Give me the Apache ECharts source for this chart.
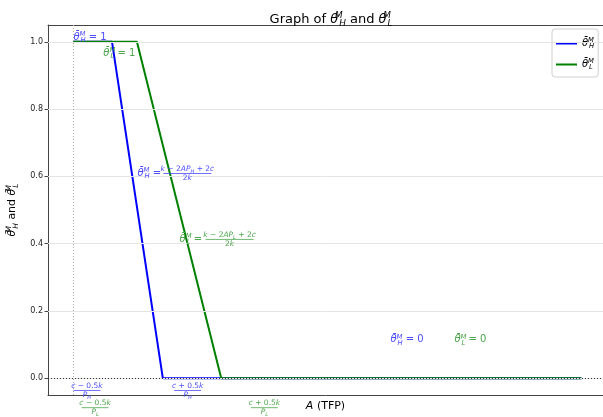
<!DOCTYPE html>
<html>
<head>
<meta charset="utf-8">
<script src="https://cdn.jsdelivr.net/npm/echarts@6/dist/echarts.min.js"></script>
<style>
    html, body { margin: 0; padding: 0; background: #fff; }
    #main { width: 603px; height: 417px; }
</style>
</head>
<body>
<div id="main"></div>
<script>
// data (A in arbitrary units, start of the curves = 0)
var aH = [0, 0.76, 1.76, 10];
var thetaH = [1, 1, 0, 0];
var aL = [0, 1.25, 2.91, 10];
var thetaL = [1, 1, 0, 0];
var yTicks = [0, 0.2, 0.4, 0.6, 0.8, 1.0];

var FONT = 'DejaVu Sans';
var BLUE = '#0000ff', GREEN = '#008000';
var BLUE_T = '#4d4dff', GREEN_T = '#4da64d';
var SPINE = '#444';

function mathRich(fs, color) {
    var base = { fontFamily: FONT, color: color, fill: color };
    return {
        t: Object.assign({}, base, { fontStyle: 'italic', fontSize: fs, lineHeight: fs * 1.3 }),
        n: Object.assign({}, base, { fontSize: fs, lineHeight: fs * 1.3 }),
        s: Object.assign({}, base, { fontStyle: 'italic', fontSize: fs * 0.68, lineHeight: fs * 0.75, verticalAlign: 'top', width: 1 }),
        b: Object.assign({}, base, { fontStyle: 'italic', fontSize: fs * 0.68, lineHeight: fs * 0.75, verticalAlign: 'bottom' })
    };
}
function theta(sub) { return '{t|θ\u0304}{s|M}{b|' + sub + '}'; }

var chart = echarts.init(document.getElementById('main'));

function toPairs(xs, ys) {
    return xs.map(function(x, i) { return [x, ys[i]]; });
}

// the plot box runs past the right edge of the window, so no right spine shows
var xMin = -0.5, xMax = 10.425;

var option = {
    animation: false,
    backgroundColor: '#fff',
    title: {
        text: '{n|Graph of }{t|θ}{s|M}{b|H}{n| and }{t|θ}{s|M}{b|L}',
        left: 326,
        top: 6,
        textAlign: 'center',
        textStyle: { fontSize: 13, fontWeight: 'normal', color: '#000', fontFamily: FONT, rich: mathRich(13, '#000') }
    },
    legend: {
        data: ['thetaH', 'thetaL'],
        orient: 'vertical',
        left: 552,
        top: 29,
        padding: [8, 4, 6, 4],
        itemGap: 8,
        itemWidth: 21,
        itemHeight: 2,
        icon: 'rect',
        backgroundColor: '#fff',
        borderColor: '#d0d0d0',
        borderWidth: 1,
        borderRadius: 3,
        formatter: function(name) {
            return name === 'thetaH' ? theta('H') : theta('L');
        },
        textStyle: { fontSize: 10, color: '#000', fontFamily: FONT, rich: mathRich(10, '#000') }
    },
    grid: {
        left: 48,
        right: 0,
        top: 25,
        bottom: 22,
        outerBoundsMode: 'none',
        containLabel: false
    },
    xAxis: [
        {
            type: 'value',
            min: xMin,
            max: xMax,
            name: '{t|A}{n| (TFP)}',
            nameLocation: 'middle',
            nameGap: 4,
            nameTextStyle: { fontSize: 11, color: '#000', fontFamily: FONT, rich: mathRich(11, '#000') },
            axisLine: { show: true, onZero: false, lineStyle: { color: SPINE, width: 1 } },
            axisTick: { show: false },
            axisLabel: { show: false },
            splitLine: { show: false }
        },
        {
            type: 'value',
            position: 'top',
            min: xMin,
            max: xMax,
            axisLine: { show: true, onZero: false, lineStyle: { color: SPINE, width: 1 } },
            axisTick: { show: false },
            axisLabel: { show: false },
            splitLine: { show: false }
        }
    ],
    yAxis: {
        type: 'value',
        min: -0.05,
        max: 1.05,
        name: theta('H') + '{n| and }' + theta('L'),
        nameLocation: 'middle',
        nameGap: 26,
        nameTextStyle: { fontSize: 11, color: '#000', fontFamily: FONT, rich: mathRich(11, '#000') },
        axisLine: { show: true, onZero: false, lineStyle: { color: SPINE, width: 1 } },
        axisTick: { show: true, length: 3.5, customValues: yTicks, lineStyle: { color: SPINE } },
        axisLabel: {
            customValues: yTicks,
            fontSize: 8,
            color: '#222',
            fontFamily: FONT,
            margin: 5,
            formatter: function(v) { return v.toFixed(1); }
        },
        splitLine: { show: false }
    },
    series: [
        {
            name: 'guides',
            type: 'line',
            data: [],
            z: 1,
            silent: true,
            markLine: {
                silent: true,
                symbol: 'none',
                label: { show: false },
                data: yTicks.map(function(v) {
                    return { yAxis: v, lineStyle: { color: '#e4e4e4', width: 1, type: 'solid' } };
                }).concat([
                    { yAxis: 0, lineStyle: { color: '#333', width: 1, type: [1, 2] } },
                    { xAxis: 0, lineStyle: { color: '#aaa', width: 1, type: [1, 2] } }
                ])
            }
        },
        {
            name: 'thetaH',
            type: 'line',
            data: toPairs(aH, thetaH),
            symbol: 'none',
            lineStyle: { color: BLUE, width: 2 },
            itemStyle: { color: BLUE },
            z: 3
        },
        {
            name: 'thetaL',
            type: 'line',
            data: toPairs(aL, thetaL),
            symbol: 'none',
            lineStyle: { color: GREEN, width: 2 },
            itemStyle: { color: GREEN },
            z: 4
        }
    ]
};
chart.setOption(option);

// text annotations, anchored in data coordinates
function px(x, y) { return chart.convertToPixel({ gridIndex: 0 }, [x, y]); }

function label(x, y, text, color, fs) {
    var p = px(x, y);
    return {
        type: 'text', x: p[0], y: p[1], z: 10,
        style: { text: text, rich: mathRich(fs, color), fill: color, fontSize: fs, fontFamily: FONT, align: 'left', verticalAlign: 'middle' }
    };
}

function frac(cx, cy, num, den, w, color, fs) {
    var rich = mathRich(fs, color);
    return [
        { type: 'text', x: cx, y: cy + 0.5, z: 10,
          style: { text: num, rich: rich, fill: color, fontSize: fs, fontFamily: FONT, align: 'center', verticalAlign: 'bottom' } },
        { type: 'line', z: 10, shape: { x1: cx - w / 2, y1: cy, x2: cx + w / 2, y2: cy },
          style: { stroke: color, lineWidth: 0.8 } },
        { type: 'text', x: cx, y: cy - 0.5, z: 10,
          style: { text: den, rich: rich, fill: color, fontSize: fs, fontFamily: FONT, align: 'center', verticalAlign: 'top' } }
    ];
}

function fracAt(x, y, num, den, w, color, fs) {
    var p = px(x, y);
    return frac(p[0], p[1], num, den, w, color, fs);
}

function formula(x, y, sub, color) {
    var p = px(x, y);
    var num = '{t|k}{n| − 2}{t|AP}{b|' + sub + '}{n| + 2}{t|c}';
    return [label(x, y, theta(sub) + '{n| =}', color, 10)]
        .concat(frac(p[0] + 50, p[1] + 0.5, num, '{n|2}{t|k}', 48, color, 7.5));
}

var graphics = [
    label(0, 1.014, theta('H') + '{n| = 1}', BLUE_T, 10),
    label(0.59, 0.967, theta('L') + '{n| = 1}', GREEN_T, 10),
    label(6.24, 0.114, theta('H') + '{n| = 0}', BLUE_T, 10),
    label(7.5, 0.114, theta('L') + '{n| = 0}', GREEN_T, 10)
]
    .concat(formula(1.26, 0.61, 'H', BLUE_T))
    .concat(formula(2.09, 0.414, 'L', GREEN_T))
    .concat(fracAt(0.266, -0.0366, '{t|c}{n| − 0.5}{t|k}', '{t|P}{b|H}', 27, BLUE_T, 7.5))
    .concat(fracAt(2.25, -0.0366, '{t|c}{n| + 0.5}{t|k}', '{t|P}{b|H}', 27, BLUE_T, 7.5))
    .concat(fracAt(0.427, -0.0877, '{t|c}{n| − 0.5}{t|k}', '{t|P}{b|L}', 27, GREEN_T, 7.5))
    .concat(fracAt(3.76, -0.0877, '{t|c}{n| + 0.5}{t|k}', '{t|P}{b|L}', 27, GREEN_T, 7.5));

chart.setOption({ graphic: graphics });
</script>
</body>
</html>
